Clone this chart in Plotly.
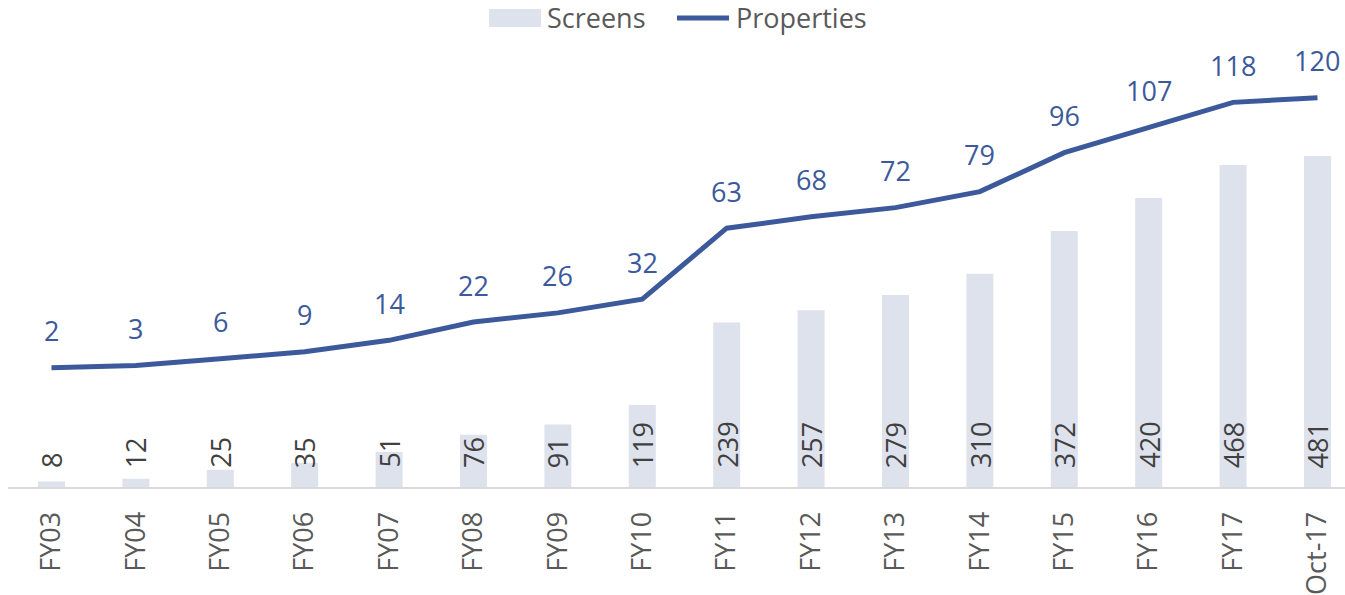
import plotly.graph_objects as go

categories = ["FY03", "FY04", "FY05", "FY06", "FY07", "FY08", "FY09", "FY10",
              "FY11", "FY12", "FY13", "FY14", "FY15", "FY16", "FY17", "Oct-17"]
screens = [8, 12, 25, 35, 51, 76, 91, 119, 239, 257, 279, 310, 372, 420, 468, 481]
properties = [2, 3, 6, 9, 14, 22, 26, 32, 63, 68, 72, 79, 96, 107, 118, 120]
series_names = ["Screens", "Properties"]

FONT = "Open Sans"
BAR_COLOR = "#dee2ed"
LINE_COLOR = "#3c5a9b"
GREY = "#595959"

W, H = 1345, 595
ML, MR, MT, MB = 8, 0, 28, 108
PW, PH = W - ML - MR, H - MT - MB


def px_x(px):
    return (px - ML) / PW


def px_y(py):
    return (H - MB - py) / PH


fig = go.Figure()
fig.add_trace(go.Bar(
    x=categories, y=screens, name=series_names[0],
    marker=dict(color=BAR_COLOR, line=dict(width=0)),
    width=0.32, yaxis="y", showlegend=False,
))
fig.add_trace(go.Scatter(
    x=categories, y=properties, name=series_names[1], mode="lines",
    line=dict(color=LINE_COLOR, width=5),
    yaxis="y2", showlegend=False,
))

annotations = []
for c, v in zip(categories, screens):
    annotations.append(dict(
        x=c, y=0, xref="x", yref="y", text=str(v), showarrow=False,
        textangle=-90, yanchor="bottom", xanchor="center", yshift=17,
        font=dict(family=FONT, size=27, color="#404040"),
    ))
for c, v in zip(categories, properties):
    annotations.append(dict(
        x=c, y=v, xref="x", yref="y2", text=str(v), showarrow=False,
        yanchor="middle", xanchor="center", yshift=37,
        font=dict(family=FONT, size=27, color=LINE_COLOR),
    ))

# custom legend (matching the reference's large swatches)
shapes = [
    dict(type="rect", xref="paper", yref="paper",
         x0=px_x(489), x1=px_x(541), y0=px_y(27), y1=px_y(9),
         fillcolor=BAR_COLOR, line=dict(width=0)),
    dict(type="line", xref="paper", yref="paper",
         x0=px_x(677), x1=px_x(729), y0=px_y(18), y1=px_y(18),
         line=dict(color=LINE_COLOR, width=5)),
]
annotations.append(dict(
    x=px_x(545), y=px_y(18), xref="paper", yref="paper", text=series_names[0],
    showarrow=False, xanchor="left", yanchor="middle",
    font=dict(family=FONT, size=27, color=GREY)))
annotations.append(dict(
    x=px_x(734), y=px_y(18), xref="paper", yref="paper", text=series_names[1],
    showarrow=False, xanchor="left", yanchor="middle",
    font=dict(family=FONT, size=27, color=GREY)))

fig.update_layout(
    width=W, height=H,
    margin=dict(l=ML, r=MR, t=MT, b=MB, autoexpand=False),
    paper_bgcolor="white", plot_bgcolor="white",
    font=dict(family=FONT, size=27, color=GREY),
    showlegend=False,
    xaxis=dict(
        type="category", range=[-0.515, 15.326],
        showline=True, linecolor="#d9d9d9", linewidth=2,
        showgrid=False, zeroline=False,
        tickangle=-90, ticks="outside", ticklen=12, tickcolor="rgba(0,0,0,0)",
        tickfont=dict(family=FONT, size=27, color=GREY),
    ),
    yaxis=dict(range=[0, 667], visible=False, showgrid=False, zeroline=False),
    yaxis2=dict(range=[-50.1, 150.5], overlaying="y", side="right",
                visible=False, showgrid=False, zeroline=False),
    annotations=annotations,
    shapes=shapes,
)

fig.write_html("out.html", config={"displayModeBar": False},
               post_script="document.body.style.margin='0';")
